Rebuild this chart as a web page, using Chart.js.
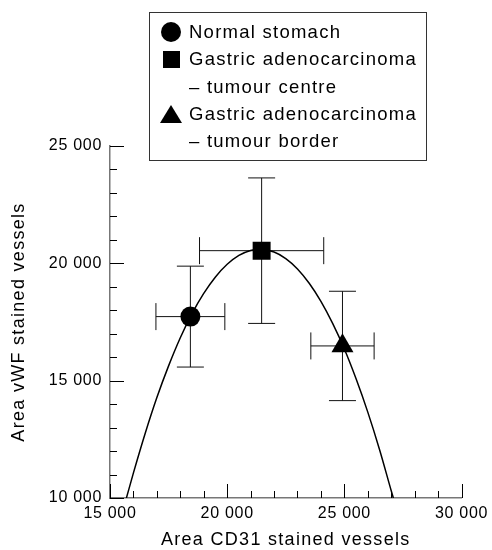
<!DOCTYPE html>
<html><head><meta charset="utf-8">
<script src="https://cdn.jsdelivr.net/npm/chart.js@4.4.1/dist/chart.umd.min.js"></script>
<style>
html,body{margin:0;padding:0;background:#fff;}
#wrap{position:relative;width:492px;height:550px;}
canvas{position:absolute;left:0;top:0;}
#legend{position:absolute;left:149px;top:12px;width:278px;height:149px;border:1px solid #333;box-sizing:border-box;
  font-family:'Liberation Sans',Arial,sans-serif;font-size:18.5px;letter-spacing:1.25px;color:#000;}
.row{position:absolute;left:0;height:20px;line-height:20px;white-space:nowrap;}
.txt{position:absolute;left:39px;top:0;}
.mk{position:absolute;}
</style></head>
<body>
<div id="wrap">
<canvas id="c" width="492" height="550"></canvas>
<div id="legend">
  <div class="mk" style="left:11px;top:8.7px;width:20px;height:20px;border-radius:50%;background:#000;"></div>
  <div class="mk" style="left:12.5px;top:37.8px;width:17px;height:17px;background:#000;"></div>
  <div class="mk" style="left:10px;top:92px;width:0;height:0;border-left:11px solid transparent;border-right:11px solid transparent;border-bottom:18px solid #000;"></div>
  <div class="row" style="top:8.7px;"><span class="txt">Normal stomach</span></div>
  <div class="row" style="top:36.3px;"><span class="txt">Gastric adenocarcinoma</span></div>
  <div class="row" style="top:63.7px;"><span class="txt">– tumour centre</span></div>
  <div class="row" style="top:91.3px;"><span class="txt">Gastric adenocarcinoma</span></div>
  <div class="row" style="top:118px;"><span class="txt">– tumour border</span></div>
</div>
</div>
<script>
// ---- data ----
const groups = ['Normal stomach', 'Gastric adenocarcinoma – tumour centre', 'Gastric adenocarcinoma – tumour border'];
const cd31 = [18430, 21470, 24920];       // x means
const vwf = [17730, 20540, 16480];        // y means
const cd31Err = [1470, 2650, 1350];       // x error (±)
const vwfErr = [2150, 3100, 2330];        // y error (±)
const pointStyles = ['circle', 'rect', 'triangle'];
const pointSizes = [10, 12.7, 12.7];

// fitted curve
const curveX = [15700, 16000, 16500, 17000, 17500, 18000, 18500, 19000, 19500, 20000, 20500, 21000, 21400, 22000, 22500, 23000, 23500, 24000, 24500, 25000, 25500, 26000, 26500, 27000, 27090];
const curveY = [10000, 11070, 12750, 14280, 15630, 16830, 17860, 18720, 19420, 19960, 20340, 20550, 20600, 20480, 20200, 19760, 19150, 18380, 17440, 16350, 15080, 13660, 12070, 10310, 10000];

const xMajorTicks = [15000, 20000, 25000, 30000];
const yMajorTicks = [10000, 15000, 20000, 25000];
const xTitle = 'Area CD31 stained vessels';
const yTitle = 'Area vWF stained vessels';

const fmt = v => (Math.round(v / 1000)) + ' 000';
const FONT = "'Liberation Sans', Arial, sans-serif";

const datasets = groups.map((g, i) => ({
  label: g,
  data: [{x: cd31[i], y: vwf[i]}],
  pointStyle: pointStyles[i],
  pointRadius: pointSizes[i],
  pointHoverRadius: pointSizes[i],
  backgroundColor: '#000',
  borderColor: '#000',
  borderWidth: 0,
  order: 0
}));
datasets.push({
  type: 'line',
  label: 'fit',
  data: curveX.map((x, i) => ({x, y: curveY[i]})),
  showLine: true,
  pointRadius: 0,
  borderColor: '#000',
  borderWidth: 1.5,
  cubicInterpolationMode: 'monotone',
  fill: false,
  order: 5
});

const custom = {
  id: 'custom',
  beforeDraw(chart) { chart.ctx.letterSpacing = '0.7px'; },
  beforeDatasetsDraw(chart) {
    const ctx = chart.ctx, xs = chart.scales.x, ys = chart.scales.y;
    ctx.save();
    ctx.strokeStyle = '#111';
    ctx.lineWidth = 1;
    const cap = 13.5;
    groups.forEach((g, i) => {
      const px = xs.getPixelForValue(cd31[i]), py = ys.getPixelForValue(vwf[i]);
      const x1 = xs.getPixelForValue(cd31[i] - cd31Err[i]), x2 = xs.getPixelForValue(cd31[i] + cd31Err[i]);
      const y1 = ys.getPixelForValue(vwf[i] + vwfErr[i]), y2 = ys.getPixelForValue(vwf[i] - vwfErr[i]);
      ctx.beginPath();
      ctx.moveTo(x1, py); ctx.lineTo(x2, py);
      ctx.moveTo(x1, py - cap); ctx.lineTo(x1, py + cap);
      ctx.moveTo(x2, py - cap); ctx.lineTo(x2, py + cap);
      ctx.moveTo(px, y1); ctx.lineTo(px, y2);
      ctx.moveTo(px - cap, y1); ctx.lineTo(px + cap, y1);
      ctx.moveTo(px - cap, y2); ctx.lineTo(px + cap, y2);
      ctx.stroke();
    });
    ctx.restore();
  },
  afterDraw(chart) {
    const ctx = chart.ctx, xs = chart.scales.x, ys = chart.scales.y, a = chart.chartArea;
    ctx.save();
    ctx.strokeStyle = '#000';
    ctx.lineWidth = 1;
    ctx.beginPath();
    for (let v = xs.min; v <= xs.max; v += 1000) {
      const len = xMajorTicks.includes(v) ? 14 : 7;
      const px = Math.round(xs.getPixelForValue(v)) + 0.5;
      ctx.moveTo(px, a.bottom); ctx.lineTo(px, a.bottom - len);
    }
    for (let v = ys.min; v <= ys.max; v += 1000) {
      const len = yMajorTicks.includes(v) ? 14 : 7;
      const py = Math.round(ys.getPixelForValue(v)) + 0.5;
      ctx.moveTo(a.left, py); ctx.lineTo(a.left + len, py);
    }
    ctx.stroke();
    // axis titles
    ctx.fillStyle = '#000';
    ctx.font = '18px ' + FONT;
    ctx.letterSpacing = '1.3px';
    ctx.textAlign = 'center';
    ctx.textBaseline = 'middle';
    ctx.fillText(xTitle, (a.left + a.right) / 2, 540);
    ctx.translate(19.5, (a.top + a.bottom) / 2);
    ctx.rotate(-Math.PI / 2);
    ctx.fillText(yTitle, 0, 0);
    ctx.restore();
  }
};

new Chart(document.getElementById('c'), {
  type: 'scatter',
  data: { datasets },
  options: {
    responsive: false,
    animation: false,
    events: [],
    layout: { padding: { top: 146, right: 28, left: 0, bottom: 0 } },
    plugins: { legend: { display: false }, tooltip: { enabled: false } },
    scales: {
      x: {
        type: 'linear', min: 15000, max: 30000,
        grid: { display: false, drawTicks: false },
        border: { display: true, color: '#777', width: 1.5 },
        ticks: {
          stepSize: 1000, autoSkip: false, maxRotation: 0, minRotation: 0, padding: 6,
          color: '#000', font: { family: FONT, size: 16 },
          callback: v => xMajorTicks.includes(v) ? fmt(v) : ''
        },
        afterFit: s => { s.height = 52; }
      },
      y: {
        type: 'linear', min: 10000, max: 25000,
        grid: { display: false, drawTicks: false },
        border: { display: true, color: '#777', width: 1.5 },
        ticks: {
          stepSize: 1000, autoSkip: false, padding: 8,
          color: '#000', font: { family: FONT, size: 16 },
          callback: v => yMajorTicks.includes(v) ? fmt(v) : ''
        },
        afterFit: s => { s.width = 110; }
      }
    }
  },
  plugins: [custom]
});
</script>
</body></html>
